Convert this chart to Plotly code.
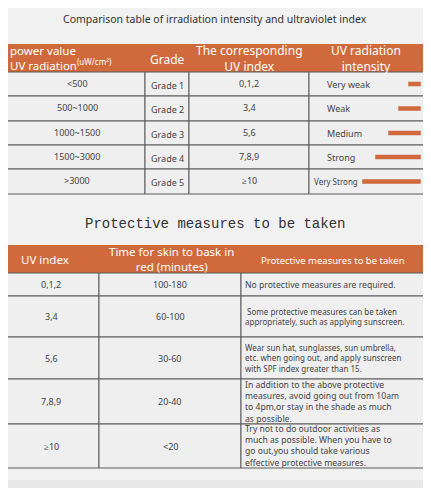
import plotly.graph_objects as go

ORANGE = "#d06a3c"
GRID = "#5a5a5a"
CELL = "#efefef"

t1_headers = ["power value<br>UV radiation<sup>(uW/cm²)</sup>", "Grade", "The corresponding<br>UV index", "UV radiation<br>intensity"]
power = ["<500", "500~1000", "1000~1500", "1500~3000", ">3000"]
grades = ["Grade 1", "Grade 2", "Grade 3", "Grade 4", "Grade 5"]
uv_idx = ["0,1,2", "3,4", "5,6", "7,8,9", "≥10"]
intensity = ["Very weak", "Weak", "Medium", "Strong", "Very Strong"]
bar_len = [13, 23, 33, 46, 59]

t2_headers = ["UV index", "Time for skin to bask in<br>red (minutes)", "Protective measures to be taken"]
uv2 = ["0,1,2", "3,4", "5,6", "7,8,9", "≥10"]
minutes = ["100-180", "60-100", "30-60", "20-40", "<20"]
measures = [
    "No protective measures are required.",
    " Some protective measures can be taken<br>appropriately, such as applying sunscreen.",
    "Wear sun hat, sunglasses, sun umbrella,<br>etc. when going out, and apply sunscreen<br>with SPF index greater than 15.",
    "In addition to the above protective<br>measures, avoid going out from 10am<br>to 4pm,or stay in the shade as much<br>as possible.",
    "Try not to do outdoor activities as<br>much as possible. When you have to<br>go out,you should take various<br>effective protective measures.",
]

shapes, ann = [], []
def rect(x0, y0, x1, y1, fill, line=None):
    shapes.append(dict(type="rect", x0=x0, x1=x1, y0=y0, y1=y1, fillcolor=fill,
                       line=dict(color=line or fill, width=1 if line else 0), layer="below"))
def text(x, y, s, size=9, color="#444", anchor="center", family="Noto Sans"):
    ann.append(dict(x=x, y=y, text=s, showarrow=False, xanchor=anchor, yanchor="middle",
                    font=dict(size=size, color=color, family=family), align="left" if anchor == "left" else "center"))

rect(0, 0, 431, 488, "#e8e8e8")
rect(3, 3, 428, 480, "#f1f1f1")
text(215, 19, "Comparison table of irradiation intensity and ultraviolet index", 10.5, "#333")

# Table 1
x1c = [7, 145, 189, 309, 424]
ys1 = [72, 96, 121, 145, 169, 194]
rect(7, 44, 424, 72, ORANGE)
for i in range(5):
    for c in range(4):
        rect(x1c[c], ys1[i], x1c[c+1], ys1[i+1], CELL, GRID)
text(8, 58, t1_headers[0], 11.5, "white", "left")
text(167, 59, t1_headers[1], 12, "white")
text(249, 58, t1_headers[2], 12, "white")
text(366, 58, t1_headers[3], 12, "white")
for i in range(5):
    yc = (ys1[i] + ys1[i+1]) / 2
    text(77, yc - 1, power[i], 9)
    text(167, yc + 1, grades[i], 9)
    text(249, yc - 1, uv_idx[i], 9)
    text(325 if i < 4 else 312, yc, intensity[i], 9 if i < 4 else 8, anchor="left")

# Table 2
text(215, 224, "Protective measures to be taken", 14, "#333", family="Liberation Mono")
x2c = [7, 99, 241, 424]
ys2 = [273, 296, 337, 379, 424, 468]
rect(7, 245, 424, 273, ORANGE)
for i in range(5):
    for c in range(3):
        rect(x2c[c], ys2[i], x2c[c+1], ys2[i+1], CELL, GRID)
text(45, 259, t2_headers[0], 11.5, "white")
text(171, 259, t2_headers[1], 11.5, "white")
text(333, 260, t2_headers[2], 9.5, "white")
for i in range(5):
    yc = (ys2[i] + ys2[i+1]) / 2
    text(51, yc, uv2[i], 9)
    text(170, yc, minutes[i], 9)
    text(243, yc, measures[i], 8 if i in (1, 2) else 8.6, anchor="left")

fig = go.Figure(go.Bar(
    y=[(ys1[i] + ys1[i+1]) / 2 for i in range(5)], x=bar_len,
    base=[421 - b for b in bar_len], orientation="h", width=5,
    marker=dict(color=ORANGE), hoverinfo="skip"))
fig.update_layout(
    width=423, height=480, margin=dict(l=0, r=0, t=0, b=0),
    plot_bgcolor="#f1f1f1", paper_bgcolor="#e8e8e8", showlegend=False,
    xaxis=dict(range=[8, 431], visible=False, fixedrange=True),
    yaxis=dict(range=[488, 8], visible=False, fixedrange=True),
    shapes=shapes, annotations=ann)
fig.write_html("out.html")
